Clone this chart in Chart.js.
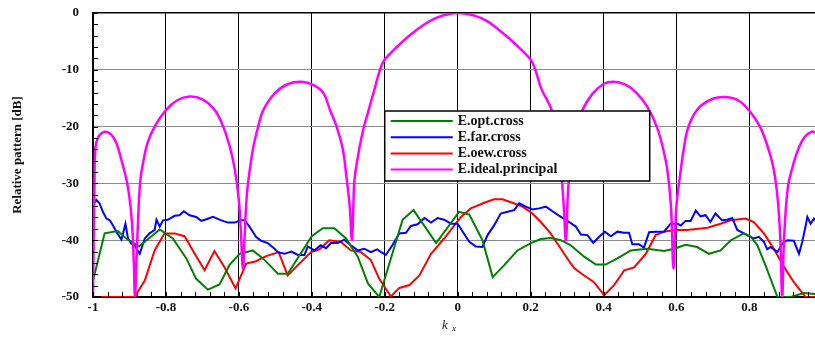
<!DOCTYPE html>
<html lang="en">
<head>
  <meta charset="UTF-8">
  <title>Relative pattern</title>
  <script src="https://cdn.jsdelivr.net/npm/chart.js"></script>
  <style>
    html, body { margin: 0; padding: 0; background: #fff; }
    #wrap { width: 815px; height: 337px; position: relative; }
  </style>
</head>
<body>
  <div id="wrap"><canvas id="chart"></canvas></div>

  <script>
    // axis ticks
    const xTickVals = [-1, -0.8, -0.6, -0.4, -0.2, 0, 0.2, 0.4, 0.6, 0.8];
    const xTickLabels = ['-1', '-0.8', '-0.6', '-0.4', '-0.2', '0', '0.2', '0.4', '0.6', '0.8'];
    const yTickVals = [0, -10, -20, -30, -40, -50];
    const yTickLabels = ['0', '-10', '-20', '-30', '-40', '-50'];

    const seriesNames = ['E.opt.cross', 'E.far.cross', 'E.oew.cross', 'E.ideal.principal'];

    // E.opt.cross
    const optK = [-1, -0.968, -0.932, -0.909, -0.874, -0.817, -0.781, -0.744, -0.717, -0.685, -0.653, -0.626,
      -0.598, -0.562, -0.534, -0.511, -0.493, -0.466, -0.400, -0.370, -0.338, -0.306, -0.274, -0.246, -0.215,
      -0.151, -0.121, -0.059, 0.004, 0.032, 0.068, 0.096, 0.128, 0.164, 0.201, 0.228, 0.255, 0.283, 0.310,
      0.347, 0.379, 0.406, 0.438, 0.475, 0.520, 0.566, 0.594, 0.625, 0.657, 0.689, 0.721, 0.749, 0.785,
      0.803, 0.822, 0.844, 0.877, 0.913, 0.950, 0.982];
    const optDb = [-47.1, -38.8, -38.4, -39.7, -41.1, -38.1, -39.7, -43.2, -46.8, -48.7, -47.8, -44.4,
      -42.4, -41.8, -43.2, -44.7, -45.9, -45.9, -39.3, -37.9, -37.9, -39.7, -42.9, -47.6, -50,
      -36.4, -34.7, -40.5, -35.0, -35.5, -40.0, -46.5, -44.4, -41.8, -40.5, -39.8, -39.6, -40.0, -40.9,
      -42.9, -44.3, -44.3, -43.2, -41.8, -41.5, -41.9, -41.5, -40.8, -41.2, -42.4, -41.8, -40.0, -38.8,
      -39.3, -40.9, -44.4, -50, -50, -49.3, -49.5];

    // E.far.cross
    const farK = [-1, -0.991, -0.982, -0.973, -0.963, -0.954, -0.945, -0.936, -0.922, -0.911, -0.904, -0.895,
      -0.886, -0.872, -0.858, -0.845, -0.831, -0.826, -0.817, -0.808, -0.795, -0.776, -0.763, -0.751, -0.735,
      -0.717, -0.703, -0.689, -0.671, -0.648, -0.630, -0.612, -0.594, -0.584, -0.571, -0.553, -0.539, -0.521,
      -0.502, -0.493, -0.475, -0.456, -0.438, -0.420, -0.411, -0.393, -0.376, -0.361, -0.347, -0.329, -0.311,
      -0.293, -0.274, -0.256, -0.238, -0.221, -0.210, -0.197, -0.179, -0.160, -0.142, -0.128, -0.110, -0.091,
      -0.073, -0.055, -0.037, -0.018, 0, 0.014, 0.032, 0.050, 0.068, 0.082, 0.100, 0.118, 0.137, 0.155, 0.169,
      0.187, 0.205, 0.223, 0.242, 0.260, 0.283, 0.306, 0.324, 0.338, 0.356, 0.372, 0.388, 0.404, 0.420, 0.438,
      0.456, 0.470, 0.479, 0.497, 0.511, 0.525, 0.543, 0.566, 0.584, 0.603, 0.612, 0.625, 0.639, 0.653, 0.666,
      0.680, 0.693, 0.707, 0.725, 0.739, 0.753, 0.767, 0.785, 0.799, 0.812, 0.826, 0.840, 0.849, 0.858, 0.877,
      0.890, 0.904, 0.922, 0.936, 0.945, 0.954, 0.959, 0.968, 0.977, 0.981];
    const farDb = [-33.8, -32.9, -33.5, -35.0, -36.2, -36.5, -37.4, -38.5, -39.9, -37.1, -39.7, -40.6,
      -40.9, -42.4, -39.7, -38.8, -38.2, -36.4, -37.6, -36.5, -36.4, -35.7, -35.6, -34.9, -35.6,
      -35.9, -36.6, -36.3, -35.9, -36.5, -36.9, -36.9, -36.5, -36.5, -37.6, -39.4, -40.1, -40.5,
      -41.5, -42.1, -42.4, -42.0, -42.6, -42.6, -41.1, -41.8, -40.9, -41.4, -40.5, -40.5, -39.9,
      -40.9, -41.8, -41.5, -42.1, -41.6, -42.1, -42.6, -40.9, -38.8, -38.7, -37.5, -37.2, -36.1,
      -36.9, -36.1, -36.4, -37.1, -37.1, -38.5, -40.3, -41.1, -41.2, -39.1, -37.4, -35.3, -35.0, -34.7, -33.5,
      -34.1, -34.6, -34.4, -34.1, -34.9, -35.9, -36.8, -37.6, -39.0, -39.1, -40.5, -39.4, -38.5, -39.3, -38.5,
      -38.7, -38.7, -40.7, -40.7, -41.3, -38.6, -38.5, -38.5, -37.1, -37.1, -37.4, -36.6, -36.6, -34.8, -35.8,
      -35.6, -36.8, -35.3, -36.5, -36.4, -36.1, -38.2, -38.8, -39.3, -39.7, -39.4, -40.3, -41.6, -41.2, -42.1,
      -40.6, -40.0, -40.1, -42.4, -40.3, -37.6, -35.9, -37.1, -36.2, -36.5];

    // E.oew.cross
    const oewK = [-0.977, -0.886, -0.858, -0.831, -0.804, -0.776, -0.749, -0.721, -0.694, -0.667, -0.639,
      -0.609, -0.580, -0.553, -0.525, -0.491, -0.466, -0.443, -0.402, -0.379, -0.352, -0.320, -0.293, -0.265,
      -0.238, -0.215, -0.183, -0.160, -0.132, -0.105, -0.073, -0.037, 0.009, 0.036, 0.073, 0.100, 0.123,
      0.150, 0.178, 0.205, 0.228, 0.255, 0.283, 0.310, 0.321, 0.342, 0.374, 0.402, 0.429, 0.457, 0.484,
      0.516, 0.543, 0.566, 0.594, 0.630, 0.685, 0.721, 0.749, 0.790, 0.812, 0.840, 0.867, 0.895, 0.922,
      0.954, 0.982];
    const oewDb = [-50, -50, -47.1, -41.8, -38.8, -38.8, -39.3, -42.4, -45.3, -41.9, -44.8,
      -48.5, -44.1, -43.7, -42.8, -42.1, -46.2, -44.7, -42.1, -41.6, -40.0, -40.3, -41.8, -42.1,
      -43.5, -46.8, -49.9, -48.4, -47.9, -46.2, -42.4, -39.7, -35.9, -34.4, -33.4, -32.8, -32.8,
      -33.4, -34.1, -35.3, -36.8, -38.8, -41.5, -44.1, -45.0, -46.0, -47.4, -49.7, -47.9, -45.3, -44.8,
      -42.4, -39.1, -38.5, -38.2, -38.2, -37.8, -37.1, -36.5, -36.2, -36.8, -38.8, -41.5, -44.7, -47.4,
      -50, -50];

    // E.ideal.principal
    const idealK = [-1, -0.996, -0.993, -0.985, -0.975, -0.965, -0.95, -0.936, -0.922, -0.908, -0.9, -0.893,
      -0.888, -0.885, -0.881, -0.876, -0.87, -0.86, -0.85, -0.831, -0.8, -0.77, -0.735, -0.70, -0.666, -0.643,
      -0.625, -0.611, -0.60, -0.594, -0.589, -0.584, -0.578, -0.570, -0.56, -0.547, -0.533, -0.501, -0.465,
      -0.428, -0.395, -0.368, -0.35, -0.332, -0.315, -0.304, -0.296, -0.290, -0.286, -0.283, -0.27, -0.258,
      -0.244, -0.228, -0.213, -0.2, -0.17, -0.14, -0.094, -0.048, 0, 0.048, 0.08, 0.11, 0.14, 0.17, 0.2,
      0.213, 0.23, 0.258, 0.272, 0.284, 0.291, 0.297, 0.303, 0.312, 0.325, 0.342, 0.37, 0.40, 0.427, 0.46,
      0.49, 0.52, 0.546, 0.562, 0.575, 0.585, 0.592, 0.60, 0.612, 0.62, 0.633, 0.66, 0.70, 0.736, 0.77, 0.80,
      0.829, 0.85, 0.867, 0.878, 0.885, 0.89, 0.895, 0.905, 0.918, 0.935, 0.952, 0.971, 0.98];
    const idealDb = [-50, -30, -23.5, -21.8, -21.1, -20.9, -21.4, -22.9, -25.9, -29.4, -32.5, -37,
      -44, -50, -44, -36, -29.4, -25.5, -22.8, -20, -17.1, -15.4, -14.7, -15.2, -17.1, -20,
      -23.5, -27.6, -33, -39, -45, -39, -32, -27.6, -23.5, -20, -17.1, -14.1, -12.5,
      -12.1, -12.7, -14.1, -17.1, -20, -24, -29.4, -34, -40, -34, -29.4, -24, -20.3,
      -17.1, -13.4, -10, -8.2, -6.2, -4.4, -2.1, -0.6, 0, -0.5, -1.4, -2.8, -4.4, -6.2, -8.2,
      -10, -13.4, -17.1, -21.5, -28, -34, -40, -31, -25, -20.5, -17.1, -14.2, -12.5, -12.1, -12.6,
      -14, -16.5, -20, -23.5, -27.6, -34, -45, -34, -27.6, -24, -20, -16.8, -15.1, -14.8, -15.4, -17.2,
      -20, -23.5, -27.6, -33, -40, -50, -40, -31, -27.2, -23.8, -21.8, -20.9, -21.0];

    const colors = ['#008000', '#0000ff', '#ff0000', '#ff00ff'];
    const FONT = "'Liberation Serif', 'Times New Roman', serif";

    const pts = (xs, ys) => xs.map((x, i) => ({ x: x, y: ys[i] }));

    // minor ticks on the left and bottom axes, pointing inwards
    const minorTicks = {
      id: 'minorTicks',
      afterDraw(chart) {
        const { ctx, chartArea, scales } = chart;
        ctx.save();
        ctx.strokeStyle = '#000';
        ctx.lineWidth = 1;
        ctx.beginPath();
        for (let v = -50; v <= 0; v += 2) {
          const y = Math.round(scales.y.getPixelForValue(v)) + 0.5;
          ctx.moveTo(chartArea.left, y);
          ctx.lineTo(chartArea.left + 5, y);
        }
        for (let i = 0; i <= 50; i++) {
          const v = -1 + i * 0.04;
          if (v > 0.985) break;
          const x = Math.round(scales.x.getPixelForValue(v)) + 0.5;
          ctx.moveTo(x, chartArea.bottom);
          ctx.lineTo(x, chartArea.bottom - 5);
        }
        ctx.stroke();
        ctx.restore();
      }
    };

    // legend box inside the plot + x axis title with subscript
    const boxLegend = {
      id: 'boxLegend',
      afterDatasetsDraw(chart) {
        const { ctx, scales } = chart;
        const left = scales.x.getPixelForValue(-0.2);
        const top = 111, w = 265, h = 70;
        ctx.save();
        ctx.fillStyle = '#fff';
        ctx.fillRect(left, top, w, h);
        ctx.strokeStyle = '#000';
        ctx.lineWidth = 1.5;
        ctx.strokeRect(left, top, w, h);
        ctx.font = 'bold 14px ' + FONT;
        ctx.textBaseline = 'middle';
        chart.data.datasets.forEach((ds, i) => {
          const y = top + 10 + i * 16.2;
          ctx.strokeStyle = ds.borderColor;
          ctx.lineWidth = 2;
          ctx.beginPath();
          ctx.moveTo(left + 6, y);
          ctx.lineTo(left + 68, y);
          ctx.stroke();
          ctx.fillStyle = '#111';
          ctx.fillText(ds.label, left + 73, y);
        });
        ctx.restore();
      },
      afterDraw(chart) {
        const { ctx, chartArea } = chart;
        const cx = (chartArea.left + chartArea.right) / 2 - 4;
        ctx.save();
        ctx.fillStyle = '#222';
        ctx.textBaseline = 'alphabetic';
        ctx.font = 'italic 13px ' + FONT;
        ctx.fillText('k', cx - 8, 329);
        ctx.font = 'italic 9px ' + FONT;
        ctx.fillText('x', cx + 2, 331);
        ctx.restore();
      }
    };

    new Chart(document.getElementById('chart'), {
      type: 'line',
      data: {
        datasets: seriesNames.map((name, i) => ({
          label: name,
          data: pts([optK, farK, oewK, idealK][i], [optDb, farDb, oewDb, idealDb][i]),
          borderColor: colors[i],
          backgroundColor: colors[i],
          borderWidth: i === 3 ? 2.5 : 2,
          pointRadius: 0,
          tension: i === 3 ? 0.4 : 0,
          order: i === 3 ? -1 : i
        }))
      },
      options: {
        responsive: true,
        maintainAspectRatio: false,
        animation: false,
        layout: { padding: { top: 13, right: 0, left: 0, bottom: 0 } },
        plugins: { legend: { display: false }, tooltip: { enabled: false } },
        scales: {
          x: {
            type: 'linear',
            min: -1,
            max: 0.98,
            afterBuildTicks: s => { s.ticks = xTickVals.map(v => ({ value: v })); },
            afterFit: s => { s.height = 40; s.paddingLeft = 0; s.paddingRight = 0; },
            ticks: {
              callback: (v, i) => xTickLabels[i],
              color: '#111',
              font: { family: FONT, size: 13, weight: 'bold' },
              padding: 3,
              maxRotation: 0
            },
            grid: { color: '#000', lineWidth: 1, drawTicks: false },
            border: { display: true, color: '#000', width: 2 }
          },
          y: {
            type: 'linear',
            min: -50,
            max: 0,
            afterBuildTicks: s => { s.ticks = yTickVals.map(v => ({ value: v })); },
            afterFit: s => { s.width = 93; s.paddingTop = 0; s.paddingBottom = 0; },
            ticks: {
              callback: (v, i) => yTickLabels[i],
              color: '#111',
              font: { family: FONT, size: 13, weight: 'bold' },
              padding: 14
            },
            grid: {
              color: c => (c.tick && c.tick.value === 0 ? '#000' : '#8a8a8a'),
              lineWidth: c => (c.tick && c.tick.value === 0 ? 1.5 : 1),
              drawTicks: false
            },
            border: { display: true, color: '#000', width: 2 },
            title: {
              display: true,
              text: 'Relative pattern [dB]',
              color: '#111',
              font: { family: FONT, size: 13, weight: 'bold' },
              padding: { top: 10, bottom: 0 }
            }
          }
        }
      },
      plugins: [minorTicks, boxLegend]
    });
  </script>
</body>
</html>
